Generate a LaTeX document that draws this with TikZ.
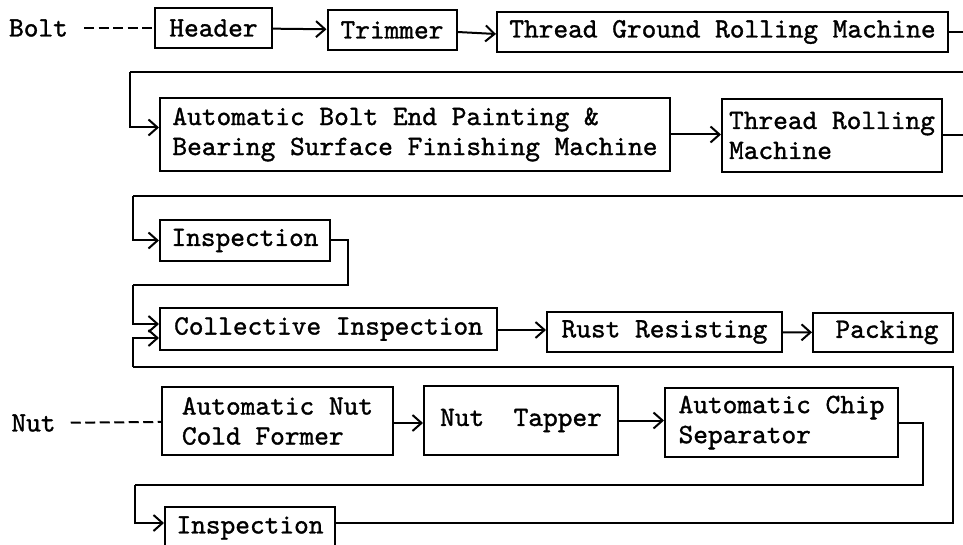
\documentclass[tikz,border=0pt]{standalone}
\usepackage{fontspec}
\newfontfamily\typew{lmmono10-regular.otf}[FakeBold=1.2]
\usetikzlibrary{arrows.meta}
\begin{document}
\begin{tikzpicture}[x=1pt,y=-1pt,
  every node/.style={font=\typew\fontsize{28}{30}\selectfont},
  box/.style={draw, line width=2pt, inner sep=0pt, align=left},
  lbl/.style={inner sep=0pt},
  conn/.style={line width=2pt},
  arr/.style={conn, -{Straight Barb[length=9pt,width=16pt,line width=2pt]}},
  dashline/.style={line width=2pt, dash pattern=on 10pt off 4.5pt}]
\clip (0,0) rectangle (963,545);
% Bolt line
\node[lbl] (bolt) at (38.5,28) {Bolt};
\node[box, minimum width=117pt, minimum height=40pt] (header) at (213.5,28) {Header};
\node[box, minimum width=129pt, minimum height=40pt] (trim) at (392,30) {Trimmer};
\node[box, minimum width=451pt, minimum height=40pt] (tgrm) at (722.5,32) {Thread Ground Rolling Machine};
\node[box, minimum width=510pt, minimum height=73pt] (bend) at (415,134.5) {Automatic Bolt End Painting \&\\Bearing Surface Finishing Machine};
\node[box, minimum width=220pt, minimum height=73pt] (trm) at (832,135.5) {Thread Rolling\\Machine};
\node[box, minimum width=170pt, minimum height=41pt] (insp) at (245,240.5) {Inspection};
\node[box, minimum width=337pt, minimum height=42pt] (coll) at (328.5,329) {Collective Inspection};
\node[box, minimum width=235pt, minimum height=40pt] (rust) at (664.5,332) {Rust Resisting};
\node[box, minimum width=140pt, minimum height=39pt] (pack) at (883,332.5) {\hspace*{8pt}Packing};
% Nut line
\node[lbl] (nut) at (33.5,423) {Nut};
\node[box, minimum width=231pt, minimum height=68pt] (former) at (277.5,421) {Automatic Nut\\Cold Former};
\node[box, minimum width=194pt, minimum height=69pt] (tapper) at (521,420.5) {Nut~~Tapper};
\node[box, minimum width=233pt, minimum height=69pt] (chip) at (781.5,422.5) {Automatic Chip\\Separator};
\node[box, minimum width=170pt, minimum height=42pt] (ninsp) at (250,528) {Inspection};
% coordinates for routing
\coordinate (r1) at (975,32);
\coordinate (r1b) at (975,72);
\coordinate (l1) at (130,72);
\coordinate (r2) at (975,135.5);
\coordinate (r2b) at (975,196);
\coordinate (l2) at (133,196);
\coordinate (i1) at (348,240.5);
\coordinate (i1b) at (348,285);
\coordinate (l3) at (133,285);
\coordinate (c1) at (923,422.5);
\coordinate (c1b) at (923,485);
\coordinate (l4) at (135,485);
\coordinate (n1) at (953,523);
\coordinate (n1b) at (953,367);
\coordinate (l5) at (133,367);
% connectors
\draw[dashline, shorten <=16pt] (bolt) -- (header);
\draw[dashline, shorten <=15pt] (nut) -- (former);
\draw[arr] (header) -- (trim);
\draw[arr] ([yshift=-2pt]trim.east) -- ([yshift=-2pt]tgrm.west);
\draw[conn] (tgrm.east) -- (r1) -- (r1b) -- (l1);
\draw[arr] (l1) |- ([yshift=7pt]bend.west);
\draw[arr] (bend.east) -- (bend.east -| trm.west);
\draw[conn] (trm.east) -- (r2) -- (r2b) -- (l2);
\draw[arr] (l2) |- (insp.west);
\draw[conn] (insp.east) -- (i1) -- (i1b) -- (l3);
\draw[arr] (l3) |- ([yshift=5pt]coll.west);
\draw[arr] ([yshift=-1pt]coll.east) -- ([yshift=-1pt]coll.east -| rust.west);
\draw[arr] (rust) -- (pack);
\draw[arr] ([yshift=-2pt]former.east) -- ([yshift=-2pt]former.east -| tapper.west);
\draw[arr] (tapper.east) -- (tapper.east -| chip.west);
\draw[conn] (chip.east) -- (c1) -- (c1b) -- (l4);
\draw[arr] (l4) |- ([yshift=5pt]ninsp.west);
\draw[conn] ([yshift=5pt]ninsp.east) -- (n1) -- (n1b) -- (l5);
\draw[arr] (l5) |- ([yshift=-9pt]coll.west);
\end{tikzpicture}
\end{document}
